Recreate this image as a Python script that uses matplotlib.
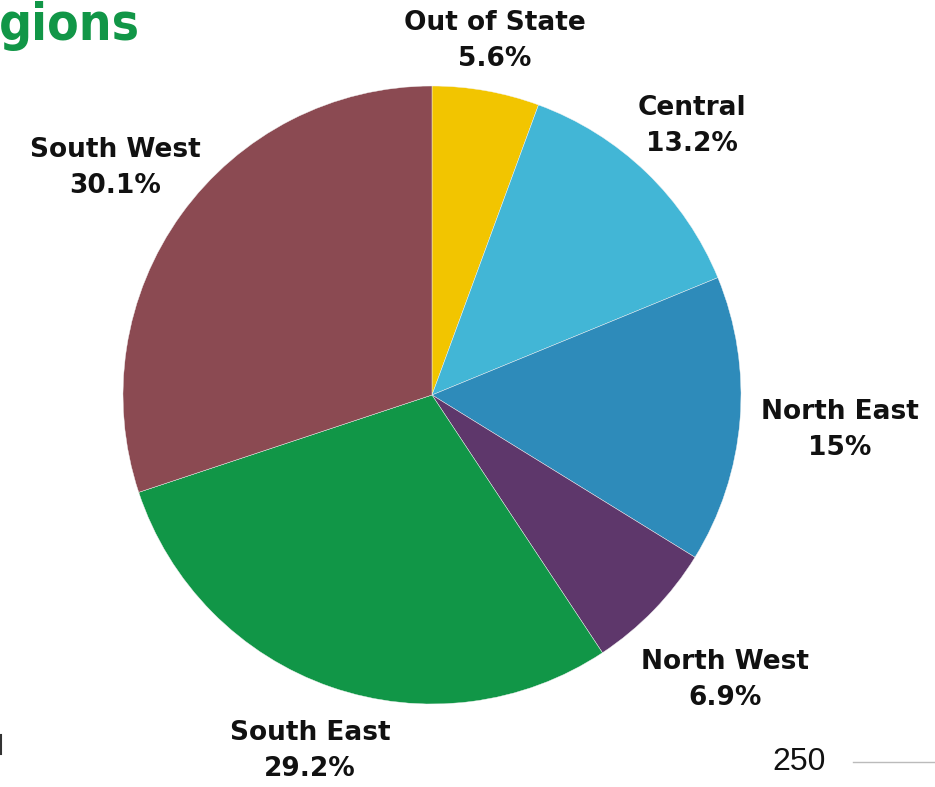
import matplotlib
matplotlib.use("Agg")
import matplotlib.pyplot as plt

regions = ["Out of State", "Central", "North East", "North West", "South East", "South West"]
shares = [5.6, 13.2, 15, 6.9, 29.2, 30.1]
share_labels = ["5.6%", "13.2%", "15%", "6.9%", "29.2%", "30.1%"]
colors = ["#F2C500", "#42B6D6", "#2E8BBA", "#5E376B", "#119647", "#8B4A52"]

W, H = 935, 787
fig = plt.figure(figsize=(W / 100, H / 100), dpi=100)
ax = fig.add_axes([0, 0, 1, 1])
ax.pie(shares, colors=colors, startangle=90, counterclock=False,
       center=(432, H - 395), radius=309,
       wedgeprops=dict(linewidth=0.3, edgecolor="#f4f4f4"))
ax.set_xlim(0, W)
ax.set_ylim(0, H)
ax.set_aspect("equal")
ax.axis("off")

label_pos = [(495, 41), (692, 126), (840, 430), (725, 680), (310, 751), (115, 168)]
for name, pct, (x, y) in zip(regions, share_labels, label_pos):
    ax.text(x, H - y, f"{name}\n{pct}", ha="center", va="center",
            fontsize=19, fontweight="bold", family="DejaVu Sans",
            linespacing=1.5, color="#111111")

# partial title visible at top-left
ax.text(-1, H - 40, "gions", ha="left", va="baseline", fontsize=37,
        fontweight="bold", family="DejaVu Sans", fontstretch="condensed",
        color="#119647")

# page number and rule at bottom-right
ax.text(799, H - 762, "250", ha="center", va="center", fontsize=23,
        family="Liberation Sans", color="#111111")
ax.plot([853, W], [H - 762, H - 762], color="#BBBBBB", linewidth=1)
ax.plot([1, 1], [H - 735, H - 754], color="#333333", linewidth=1.5)

fig.savefig("out.png", dpi=100)
